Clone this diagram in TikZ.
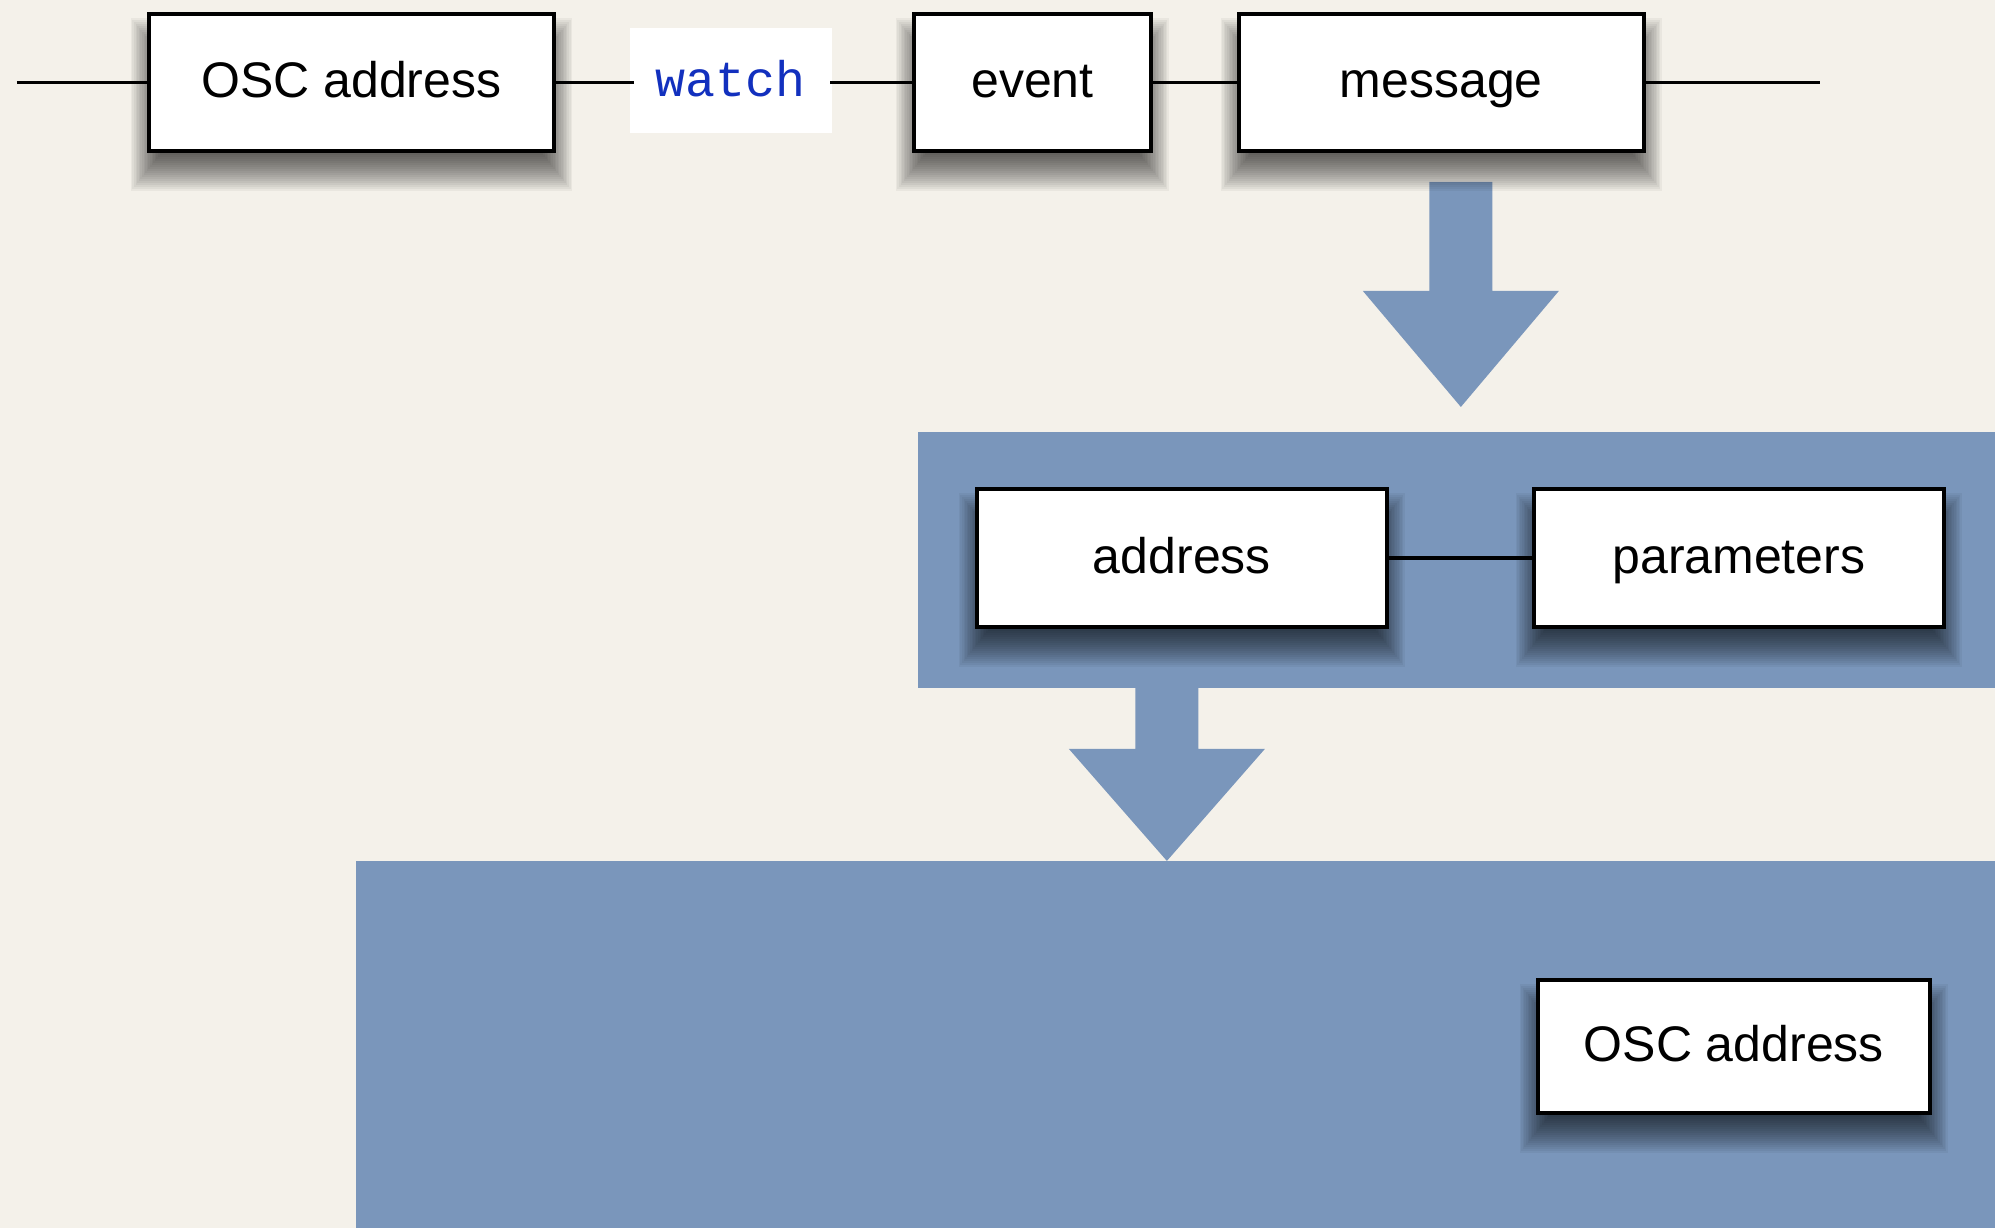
\documentclass[tikz,border=0pt]{standalone}
\usepackage{fontspec}
\setmainfont{Liberation Sans}
\newfontfamily\codefont{Liberation Mono}
\definecolor{paper}{RGB}{244,241,234}
\definecolor{panelblue}{RGB}{122,150,187}
\definecolor{codeblue}{RGB}{18,48,190}

\pgfdeclarelayer{backdrop}
\pgfdeclarelayer{shadows}
\pgfsetlayers{backdrop,shadows,main}

\tikzset{
  % block arrow pointing down: #1 = shaft length, #2 = head length
  pics/flowarrow/.style n args={2}{code={
    \fill[panelblue] (-31.5,0) -- (31.5,0) -- (31.5,-#1) -- (98,-#1)
      -- (0,-#1-#2) -- (-98,-#1) -- (-31.5,-#1) -- cycle;
  }},
}

% soft drop shadow under a named box, built from stacked translucent rectangles
\newcommand\softshadow[1]{%
  \begin{pgfonlayer}{shadows}
    \foreach \s in {-24,-22,...,24} {
      \pgfmathsetmacro\ax{0.8*\s+3}
      \pgfmathsetmacro\ay{\s-14}
      \pgfmathsetmacro\bx{-0.8*(\s)-3}
      \pgfmathsetmacro\by{-(\s)-30}
      \fill[black, opacity=0.045]
        ([shift={(\ax,\ay)}]#1.south west) rectangle ([shift={(\bx,\by)}]#1.north east);
    }
  \end{pgfonlayer}}

\begin{document}
\begin{tikzpicture}[x=1pt,y=1pt,
  box/.style={draw=black, line width=4pt, fill=white, inner sep=0pt,
    minimum width=#1, minimum height=137pt,
    text height=31pt, text depth=0pt,
    font=\fontsize{50}{60}\selectfont},
  keyword/.style={fill=white, inner sep=0pt, minimum width=202pt,
    minimum height=105pt, text=codeblue,
    text height=33pt, text depth=0pt,
    font=\codefont\fontsize{50}{60}\selectfont},
  panel/.style={fill=panelblue, inner sep=0pt, anchor=north west},
  link/.style={line width=3.8pt, draw=black}]

  \begin{pgfonlayer}{backdrop}
    % paper background
    \fill[paper] (0,0) rectangle (1995,-1228);
    % blue panels
    \node[panel, minimum width=1077pt, minimum height=256pt] (msgpanel) at (918,-432) {};
    \node[panel, minimum width=1639pt, minimum height=367pt] (oscpanel) at (356,-861) {};
    % block arrows
    \pic at (1461,-182) {flowarrow={109}{116}};
    \pic at (1167,-688) {flowarrow={61}{112}};
  \end{pgfonlayer}
  \useasboundingbox (0,0) rectangle (1995,-1228);

  % top row
  \coordinate (start) at (17,-82.5);
  \coordinate (finish) at (1820,-82.5);
  \node[box=405pt] (osc) at (351.5,-82.5) {OSC address};
  \node[keyword] (watch) at (731,-80.5) {watch};
  \node[box=237pt] (event) at (1032.5,-82.5) {event};
  \node[box=405pt] (message) at (1441.5,-82.5) {message};

  % message contents
  \node[box=410pt, minimum height=138pt] (address) at (1182,-558) {address};
  \node[box=410pt, minimum height=138pt] (params) at (1739,-558) {parameters};

  % lower panel
  \node[box=392pt, minimum height=133pt] (osc2) at (1734,-1046.5) {OSC address};

  \softshadow{osc}
  \softshadow{event}
  \softshadow{message}
  \softshadow{address}
  \softshadow{params}
  \softshadow{osc2}

  % connectors
  \draw[link] (start) -- (osc.west);
  \draw[link] (osc.east) -- ([xshift=4pt]osc.east -| watch.west);
  \draw[link] ([xshift=-2pt]event.west -| watch.east) -- (event.west);
  \draw[link] (event.east) -- (message.west);
  \draw[link] (message.east) -- (finish);
  \draw[link] (address.east) -- (params.west);
\end{tikzpicture}
\end{document}
